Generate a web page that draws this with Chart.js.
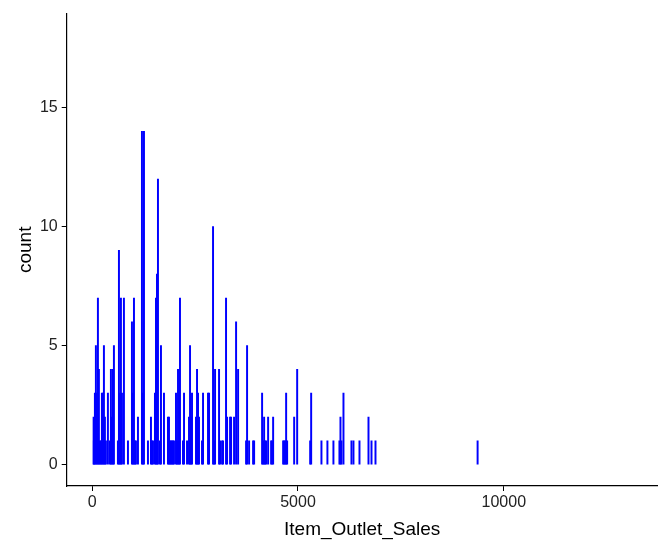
<!DOCTYPE html>
<html lang="en">
<head>
  <meta charset="UTF-8">
  <title>Item_Outlet_Sales</title>
  <script src="https://cdn.jsdelivr.net/npm/chart.js"></script>
  <style>
    body { margin: 0; background: #fff; }
    canvas { display: block; }
  </style>
</head>
<body>
  <canvas id="chart" width="667" height="551"></canvas>

  <script>
    // sales value of each bar and how many rows share it
    const sales = [
      35, 41, 66, 90, 114, 139, 163, 187, 212, 236, 260, 285, 309, 333,
      382, 431, 455, 479, 504, 528, 625, 650, 674, 698, 723, 771, 869,
      966, 990, 1015, 1039, 1063, 1112, 1209, 1233, 1258, 1355, 1428, 1452,
      1477, 1525, 1550, 1574, 1598, 1647, 1671, 1744, 1841, 1866, 1890,
      1914, 1939, 1963, 1987, 2036, 2060, 2085, 2109, 2133, 2206, 2231,
      2304, 2352, 2377, 2401, 2425, 2522, 2547, 2571, 2595, 2668, 2693,
      2814, 2839, 2936, 2960, 2985, 3082, 3106, 3155, 3179, 3252, 3277,
      3350, 3374, 3447, 3496, 3545, 3739, 3763, 3812, 3909, 3934, 4128,
      4153, 4177, 4201, 4226, 4274, 4347, 4372, 4396, 4639, 4663, 4688,
      4712, 4736, 4907, 4980, 5296, 5320, 5570, 5715, 5861, 6007, 6032,
      6056, 6105, 6299, 6348, 6494, 6713, 6786, 6883, 9364
    ];
    const counts = [
      2, 1, 3, 5, 3, 7, 4, 1, 1, 3, 3, 5, 2, 1,
      3, 1, 4, 2, 4, 5, 1, 9, 3, 7, 3, 7, 1,
      6, 3, 7, 1, 1, 2, 14, 3, 14, 1, 2, 1,
      1, 3, 7, 8, 12, 1, 5, 3, 2, 2, 1,
      1, 1, 1, 1, 3, 1, 4, 1, 7, 1, 3,
      1, 2, 5, 2, 3, 2, 4, 3, 2, 1, 3,
      3, 3, 10, 1, 4, 4, 1, 1, 1, 7, 2,
      2, 2, 2, 6, 4, 1, 5, 1, 1, 1, 3,
      1, 2, 1, 1, 2, 1, 1, 2, 1, 1, 1,
      3, 1, 2, 4, 1, 3, 1, 1, 1, 1, 2,
      1, 3, 1, 1, 1, 2, 1, 1, 1
    ];
    const xTicks = [0, 5000, 10000];
    const yTicks = [0, 5, 10, 15];

    const points = sales.map((s, i) => ({ x: s, y: counts[i] }));

    const ctx = document.getElementById('chart').getContext('2d');
    new Chart(ctx, {
      type: 'bar',
      data: {
        datasets: [{
          data: points,
          backgroundColor: '#0000ff',
          borderWidth: 0,
          barThickness: 1.3,
        }],
      },
      options: {
        responsive: false,
        animation: false,
        layout: { padding: { top: 9, right: 9.3, left: 0, bottom: 0 } },
        plugins: { legend: { display: false }, tooltip: { enabled: false } },
        scales: {
          x: {
            type: 'linear',
            min: -619.4,
            max: 13739.6,
            offset: false,
            afterBuildTicks: (scale) => { scale.ticks = xTicks.map(v => ({ value: v })); },
            afterFit: (scale) => { scale.height = 65; },
            grid: { display: true, offset: false, drawOnChartArea: false, drawTicks: true, tickLength: 5, color: '#000', lineWidth: 1 },
            border: { display: true, color: '#000', width: 1.2 },
            ticks: {
              color: '#222', padding: 2, maxRotation: 0,
              font: { family: 'Liberation Sans', size: 16 },
              callback: (v) => String(v),
            },
            title: {
              display: true,
              text: 'Item_Outlet_Sales',
              color: '#000',
              font: { family: 'Liberation Sans', size: 19 },
              padding: { top: 0, bottom: 9.6 },
            },
          },
          y: {
            min: -0.9,
            max: 18.95,
            afterBuildTicks: (scale) => { scale.ticks = yTicks.map(v => ({ value: v })); },
            afterFit: (scale) => { scale.width = 66.7; },
            grid: { display: true, drawOnChartArea: false, drawTicks: true, tickLength: 5, color: '#000', lineWidth: 1 },
            border: { display: true, color: '#000', width: 1.2 },
            ticks: { color: '#222', padding: 4, font: { family: 'Liberation Sans', size: 16 } },
            title: {
              display: true,
              text: 'count',
              color: '#000',
              font: { family: 'Liberation Sans', size: 19 },
              padding: { top: 14.6, bottom: 0 },
            },
          },
        },
      },
    });
  </script>
</body>
</html>
